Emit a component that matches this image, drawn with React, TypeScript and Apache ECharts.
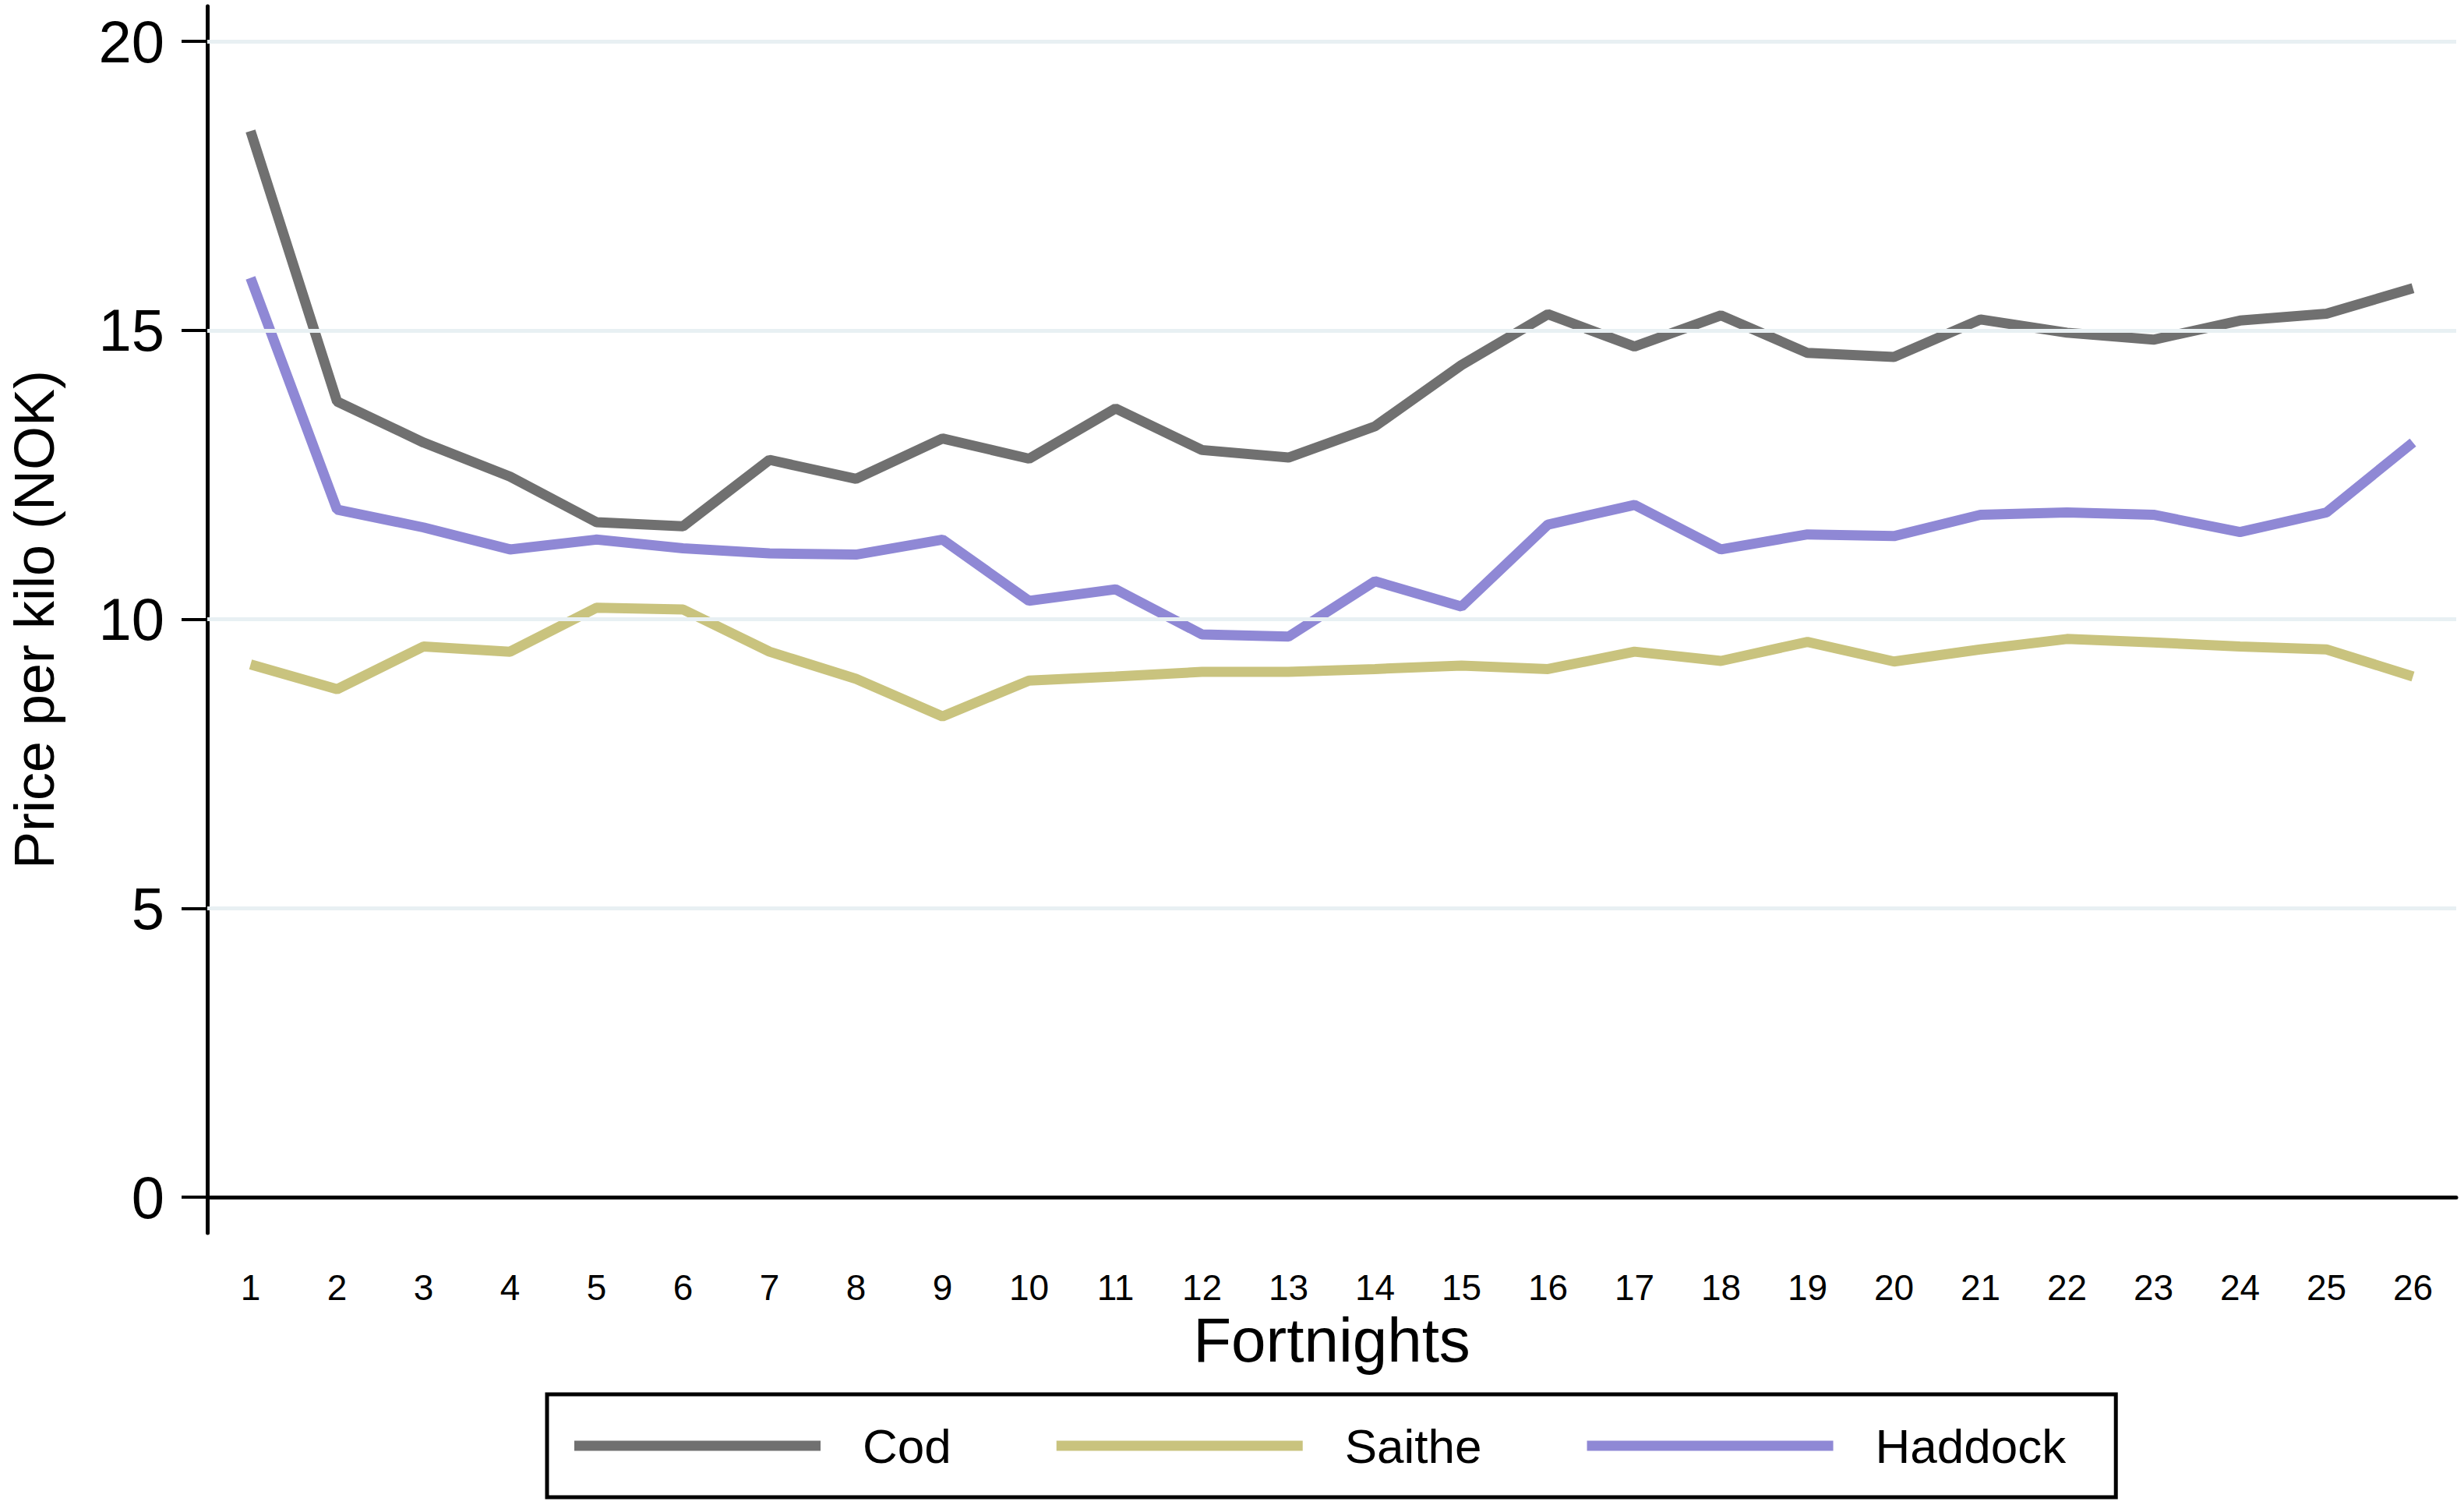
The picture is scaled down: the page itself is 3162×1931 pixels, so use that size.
import React, { useEffect, useRef } from "react";
import * as echarts from "echarts";

const fortnights = ["1","2","3","4","5","6","7","8","9","10","11","12","13","14","15","16","17","18","19","20","21","22","23","24","25","26"];
const cod = [18.45,13.77,13.06,12.47,11.68,11.61,12.76,12.43,13.13,12.78,13.65,12.93,12.80,13.34,14.40,15.28,14.72,15.26,14.61,14.54,15.19,14.96,14.84,15.17,15.29,15.73];
const saithe = [9.22,8.79,9.53,9.44,10.20,10.17,9.44,8.97,8.32,8.94,9.01,9.09,9.09,9.14,9.20,9.14,9.44,9.28,9.61,9.27,9.48,9.66,9.60,9.53,9.48,9.01];
const haddock = [15.91,11.90,11.59,11.21,11.38,11.23,11.14,11.12,11.38,10.32,10.52,9.74,9.70,10.66,10.22,11.64,11.98,11.21,11.47,11.44,11.81,11.85,11.81,11.51,11.85,13.06];
const yTicks = [0, 5, 10, 15, 20];
const gridValues = [5, 10, 15, 20];
const seriesNames = ["Cod", "Saithe", "Haddock"];

const FONT = "'Liberation Sans', Arial, sans-serif";

export default function App() {
  const ref = useRef<HTMLDivElement>(null);
  useEffect(() => {
    if (!ref.current) return;
    const chart = echarts.init(ref.current, undefined, { renderer: "svg" });
    const colors = ["#707070", "#c9c37e", "#8f88d5"];
    const values = [cod, saithe, haddock];
    chart.setOption({
      animation: false,
      backgroundColor: "#ffffff",
      grid: { left: 265, right: 10, top: 8, bottom: 349 },
      legend: {
        data: seriesNames,
        left: 702,
        top: 1789,
        orient: "horizontal",
        icon: "rect",
        itemWidth: 316,
        itemHeight: 13,
        itemGap: 135,
        padding: [35, 64, 35, 35],
        borderColor: "#000",
        borderWidth: 5,
        backgroundColor: "#fff",
        textStyle: { fontSize: 62, fontFamily: FONT, color: "#000", padding: [0, 0, 0, 49], lineHeight: 62 },
      },
      xAxis: {
        type: "category",
        data: fortnights,
        boundaryGap: true,
        name: "Fortnights",
        nameLocation: "middle",
        nameGap: 86,
        nameTextStyle: { fontSize: 80, fontFamily: FONT, color: "#000" },
        axisLine: { lineStyle: { color: "#000", width: 5 } },
        axisTick: { alignWithLabel: true, length: 28, lineStyle: { color: "#000", width: 4 } },
        axisLabel: { fontSize: 46, fontFamily: FONT, color: "#000", margin: 47, interval: 0 },
        splitLine: { show: false },
      },
      yAxis: {
        type: "value",
        min: -0.62,
        max: 20.61,
        name: "Price per kilo (NOK)",
        nameLocation: "middle",
        nameGap: 186,
        nameTextStyle: { fontSize: 72, fontFamily: FONT, color: "#000" },
        axisLine: { show: true, lineStyle: { color: "#000", width: 5 } },
        axisTick: { show: true, length: 33, lineStyle: { color: "#000", width: 4 }, customValues: yTicks },
        axisLabel: { fontSize: 76, fontFamily: FONT, color: "#000", margin: 55, customValues: yTicks },
        splitLine: { show: false },
      },
      series: [
        {
          name: "grid",
          type: "line",
          data: fortnights.map(() => null),
          z: 1,
          silent: true,
          showSymbol: false,
          markLine: {
            silent: true,
            symbol: "none",
            label: { show: false },
            lineStyle: { color: "#e8f0f3", width: 5, type: "solid" },
            data: gridValues.map((v) => ({ yAxis: v })),
          },
        },
        ...seriesNames.map((n, i) => ({
          name: n,
          type: "line",
          data: values[i],
          z: 2 + i,
          symbol: "none",
          lineStyle: { color: colors[i], width: 13 },
          itemStyle: { color: colors[i] },
        })),
      ],
    });
    return () => chart.dispose();
  }, []);
  return (
    <div
      ref={ref}
      style={{ position: "fixed", left: 0, top: 0, width: 3162, height: 1931, background: "#fff" }}
    />
  );
}
